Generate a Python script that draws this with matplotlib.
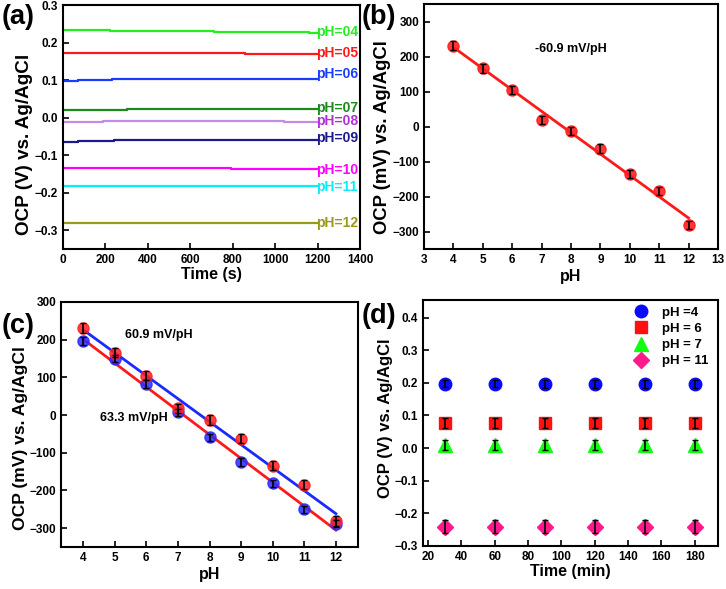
import numpy as np
import matplotlib
matplotlib.use("Agg")
import matplotlib.pyplot as plt

plt.rcParams['font.family'] = ['Liberation Sans', 'DejaVu Sans']
plt.rcParams['font.weight'] = 'bold'
plt.rcParams['axes.labelweight'] = 'bold'

# ---------------- data ----------------
# (a) OCP vs time: step levels (time s, OCP V)
ph_labels_a = ["pH=04", "pH=05", "pH=06", "pH=07", "pH=08", "pH=09", "pH=10", "pH=11", "pH=12"]
colors_a = ["#22ee22", "#ff1a1a", "#1a3cff", "#1a8a1a", "#c58ae6", "#1a1a8c", "#ff00ff", "#00f0ff", "#9a9a1a"]
label_colors_a = ["#22ee22", "#ff1a1a", "#1a3cff", "#1a8a1a", "#b030d8", "#1a1a8c", "#ff00ff", "#00f0ff", "#9a9a1a"]
t_a = [
    [0, 220, 710, 1160, 1200],
    [0, 860, 1200],
    [0, 70, 230, 370, 1200],
    [0, 300, 1200],
    [0, 190, 1040, 1200],
    [0, 70, 240, 620, 1200],
    [0, 790, 1200],
    [0, 1200],
    [0, 1200],
]
v_a = [
    [0.233, 0.230, 0.228, 0.225, 0.225],
    [0.171, 0.169, 0.169],
    [0.098, 0.100, 0.103, 0.104, 0.104],
    [0.019, 0.022, 0.022],
    [-0.013, -0.009, -0.011, -0.011],
    [-0.065, -0.062, -0.060, -0.059, -0.059],
    [-0.134, -0.137, -0.137],
    [-0.181, -0.181],
    [-0.282, -0.282],
]
label_y_a = [0.228, 0.171, 0.116, 0.026, -0.008, -0.053, -0.140, -0.184, -0.282]

# (b)/(c) OCP vs pH
ph = [4, 5, 6, 7, 8, 9, 10, 11, 12]
ocp_red = [231, 166, 104, 18, -13, -63, -135, -185, -281]
err_red = [12, 12, 12, 12, 12, 12, 12, 12, 12]
ocp_blue = [197, 150, 82, 7, -59, -125, -181, -250, -288]
err_blue = [10, 10, 10, 10, 10, 10, 10, 10, 10]

# (d) stability
time_d = [30, 60, 90, 120, 150, 180]
d_labels = ["pH =4", "pH = 6", "pH = 7", "pH = 11"]
d_vals = [
    [0.198, 0.198, 0.197, 0.197, 0.197, 0.197],
    [0.077, 0.077, 0.077, 0.077, 0.077, 0.077],
    [0.010, 0.010, 0.010, 0.010, 0.010, 0.010],
    [-0.241, -0.241, -0.241, -0.241, -0.241, -0.241],
]
d_err = [0.012, 0.015, 0.015, 0.02]
d_markers = ["o", "s", "^", "D"]
d_colors = ["#0a0aff", "#ff1010", "#10ff10", "#ff1a8c"]
d_msize = [9, 8, 10, 8]

# ---------------- figure ----------------
W, H = 726, 589
fig = plt.figure(figsize=(W / 100, H / 100), dpi=100)


def ax_px(l, r, t, b):
    return fig.add_axes([l / W, (H - b) / H, (r - l) / W, (b - t) / H])


def style(ax):
    for s in ax.spines.values():
        s.set_linewidth(1.5)
    ax.tick_params(direction='in', length=4, width=1.2, labelsize=8.5, top=False, right=False)
    for lab in ax.get_xticklabels() + ax.get_yticklabels():
        lab.set_fontweight('bold')


PL = 19.5

# (a)
axa = ax_px(63, 360, 5, 249)
for t, v, c, lc, lab, ly in zip(t_a, v_a, colors_a, label_colors_a, ph_labels_a, label_y_a):
    axa.plot(t, v, color=c, lw=1.6, drawstyle='steps-post')
    axa.text(1195, ly, lab, color=lc, fontsize=10, fontweight='bold', ha='left', va='center')
axa.set_xlim(0, 1400)
axa.set_ylim(-0.35, 0.3)
axa.set_xticks(range(0, 1401, 200))
axa.set_yticks(np.round(np.arange(-0.3, 0.31, 0.1), 1))
axa.set_xlabel("Time (s)", fontsize=11.5, labelpad=1)
axa.set_ylabel("OCP (V) vs. Ag/AgCl", fontsize=13.6, labelpad=1)
axa.yaxis.label.set_y(0.43)
style(axa)
fig.text(2 / W, 1 - 17 / H, "(a)", fontsize=PL, fontweight='bold', va='center', ha='left')

# (b)
axb = ax_px(424, 718, 4, 249)
k, b0 = np.polyfit(ph, ocp_red, 1)
xf = np.array([ph[0], ph[-1]])
axb.plot(xf, k * xf + b0, color='#ff1a1a', lw=2, zorder=2)
axb.plot(ph, ocp_red, 'o', color='#ff2020', ms=8, alpha=0.9, zorder=3)
axb.errorbar(ph, ocp_red, yerr=err_red, fmt='none', ecolor='black', elinewidth=1.2, capsize=2, zorder=4)
axb.text(8, 222, "-60.9 mV/pH", fontsize=9, fontweight='bold', ha='center', va='center')
axb.set_xlim(3, 13)
axb.set_ylim(-350, 350)
axb.set_xticks(range(3, 14))
axb.set_yticks(range(-300, 301, 100))
axb.set_xlabel("pH", fontsize=11.5, labelpad=2)
axb.set_ylabel("OCP (mV) vs. Ag/AgCl", fontsize=13.3, labelpad=1)
axb.yaxis.label.set_y(0.455)
style(axb)
fig.text(362 / W, 1 - 17 / H, "(b)", fontsize=PL, fontweight='bold', va='center', ha='left')

# (c)
axc = ax_px(61, 358, 302, 547)
k2, b2 = np.polyfit(ph, ocp_blue, 1)
axc.plot(xf, k * xf + b0, color='#1a2aff', lw=2, zorder=2)
axc.plot(xf, k2 * xf + b2, color='#ff1a1a', lw=2, zorder=2)
axc.plot(ph, ocp_blue, 'o', color='#2a2aff', ms=8, alpha=0.85, zorder=3)
axc.plot(ph, ocp_red, 'o', color='#ff2020', ms=8, alpha=0.85, zorder=3)
axc.errorbar(ph, ocp_red, yerr=err_red, fmt='none', ecolor='black', elinewidth=1.2, capsize=2, zorder=4)
axc.errorbar(ph, ocp_blue, yerr=err_blue, fmt='none', ecolor='black', elinewidth=1.2, capsize=2, zorder=4)
axc.text(5.33, 212, "60.9 mV/pH", fontsize=9, fontweight='bold', ha='left', va='center')
axc.text(4.52, -9, "63.3 mV/pH", fontsize=9, fontweight='bold', ha='left', va='center')
axc.set_xlim(3.3, 12.7)
axc.set_ylim(-350, 300)
axc.set_xticks(ph)
axc.set_yticks(range(-300, 301, 100))
axc.set_xlabel("pH", fontsize=11.5, labelpad=2)
axc.set_ylabel("OCP (mV) vs. Ag/AgCl", fontsize=12.6, labelpad=1)
axc.yaxis.label.set_y(0.445)
style(axc)
fig.text(2 / W, 1 - 326 / H, "(c)", fontsize=PL, fontweight='bold', va='center', ha='left')

# (d)
axd = ax_px(423, 718, 300, 546)
for vals, err, m, c, ms, lab in zip(d_vals, d_err, d_markers, d_colors, d_msize, d_labels):
    axd.plot(time_d, vals, m, color=c, ms=ms, label=lab, zorder=3)
    axd.errorbar(time_d, vals, yerr=err, fmt='none', ecolor='black', elinewidth=1.2, capsize=2, zorder=4)
axd.set_xlim(17, 194)
axd.set_ylim(-0.3, 0.454)
axd.set_xticks(range(20, 181, 20))
axd.set_yticks(np.round(np.arange(-0.3, 0.41, 0.1), 1))
axd.set_xlabel("Time (min)", fontsize=11.5, labelpad=1)
axd.set_ylabel("OCP (V) vs. Ag/AgCl", fontsize=12, labelpad=1)
axd.yaxis.label.set_y(0.52)
leg = axd.legend(loc='upper right', frameon=False, handletextpad=0.6,
                 labelspacing=0.3, borderaxespad=0.1, bbox_to_anchor=(0.99, 1.0),
                 prop={'weight': 'bold', 'size': 9.5})
style(axd)
fig.text(362 / W, 1 - 316 / H, "(d)", fontsize=PL, fontweight='bold', va='center', ha='left')

fig.savefig("out.png", dpi=100)
